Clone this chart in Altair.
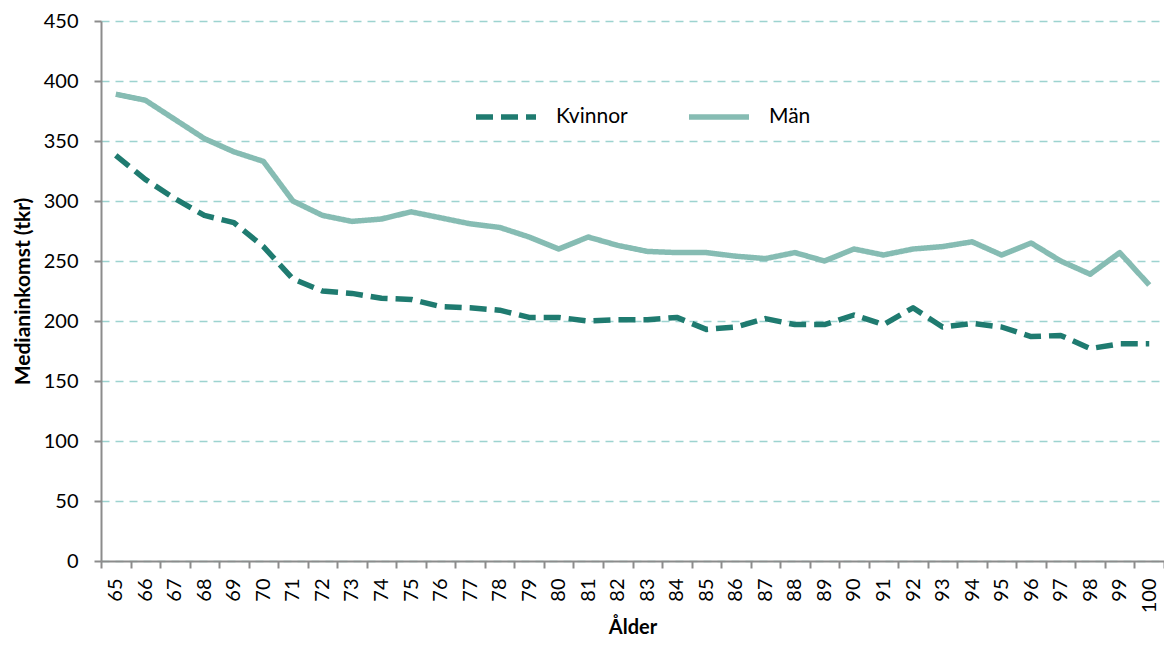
import altair as alt
import pandas as pd

ages = list(range(65, 101))
man = [389, 384, 368, 352, 341, 333, 300, 288, 283, 285, 291, 286, 281, 278, 270, 260,
       270, 263, 258, 257, 257, 254, 252, 257, 250, 260, 255, 260, 262, 266, 255, 265,
       250, 239, 257, 230]
kvinnor = [338, 318, 302, 288, 282, 262, 235, 225, 223, 219, 218, 212, 211, 209, 203, 203,
           200, 201, 201, 203, 193, 195, 202, 197, 197, 205, 197, 211, 195, 198, 195, 187,
           188, 177, 181, 181]
series = ["Kvinnor", "Män"]

rows = []
for a, v in zip(ages, kvinnor):
    rows.append({"Ålder": a, "Värde": v, "Kön": "Kvinnor"})
for a, v in zip(ages, man):
    rows.append({"Ålder": a, "Värde": v, "Kön": "Män"})
df = pd.DataFrame(rows)

FONT = "Lato"

legend_kw = dict(title=None, orient="none", legendX=372, legendY=63,
                 direction="horizontal", symbolType="stroke",
                 symbolSize=3600, symbolStrokeWidth=5.5,
                 labelFont=FONT, labelFontSize=21, labelColor="#000000",
                 labelOffset=17, columnPadding=50)

chart = alt.Chart(df).mark_line(strokeWidth=5.5, strokeCap="butt", strokeJoin="round").encode(
    x=alt.X("Ålder:O",
            scale=alt.Scale(type="band", paddingInner=0, paddingOuter=0),
            axis=alt.Axis(title="Ålder", labelAngle=270, tickBand="extent", grid=False,
                          domainColor="#8c8c8c", domainWidth=2, tickColor="#8c8c8c",
                          tickWidth=2, tickSize=7, labelPadding=10, labelFontSize=20,
                          labelFont=FONT, labelColor="#000000",
                          titleFont=FONT, titleFontSize=20, titleFontWeight="bold",
                          titleColor="#000000", titlePadding=5)),
    y=alt.Y("Värde:Q",
            scale=alt.Scale(domain=[0, 450], nice=False),
            axis=alt.Axis(title="Medianinkomst (tkr)", values=list(range(0, 451, 50)),
                          grid=True, gridColor="#9dd3d0", gridDash=[8, 6], gridWidth=1.5,
                          domainColor="#8c8c8c", domainWidth=2, tickColor="#8c8c8c",
                          tickWidth=2, tickSize=7, labelPadding=16, labelFontSize=20,
                          labelFont=FONT, labelColor="#000000",
                          titleFont=FONT, titleFontSize=21, titleFontWeight="bold",
                          titleColor="#000000", titlePadding=10)),
    color=alt.Color("Kön:N", scale=alt.Scale(domain=series, range=["#1f7b70", "#86bcb3"]),
                    legend=alt.Legend(**legend_kw)),
    strokeDash=alt.StrokeDash("Kön:N", scale=alt.Scale(domain=series, range=[[17, 8], [1, 0]]),
                              legend=alt.Legend(**legend_kw)),
).properties(
    width=1063, height=540,
    autosize=alt.AutoSizeParams(type="none"),
    padding={"left": 93, "top": 13, "right": 0, "bottom": 76},
).configure_view(stroke=None)

chart.save("out.html", embed_options={"renderer": "svg", "actions": False})
